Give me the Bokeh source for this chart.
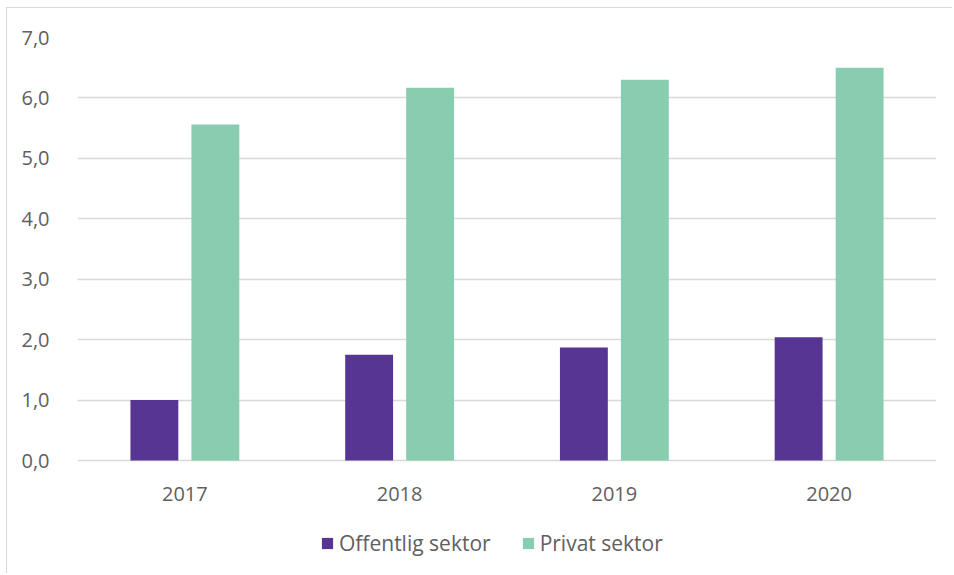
from bokeh.plotting import figure
from bokeh.models import FactorRange, Range1d, Legend, LegendItem, CustomJSTickFormatter
from bokeh.transform import dodge
from bokeh.models import ColumnDataSource
from bokeh.embed import file_html
from bokeh.resources import INLINE

years = ["2017", "2018", "2019", "2020"]
offentlig = [1.0, 1.75, 1.87, 2.04]
privat = [5.56, 6.17, 6.30, 6.50]
y_ticks = [0, 1, 2, 3, 4, 5, 6, 7]

src = ColumnDataSource(data=dict(years=years, offentlig=offentlig, privat=privat))

FONT = "Open Sans"
TXT = "#606060"

# frame extends to the bottom of the canvas so the legend can sit inside it
p = figure(x_range=FactorRange(factors=years, range_padding=0), y_range=Range1d(-1.886, 7),
           width=946, height=566, output_backend="svg", toolbar_location=None,
           min_border_left=70, min_border_right=17, min_border_top=29, min_border_bottom=0)
p.margin = (7, 0, 0, 6)
p.styles = {"border-top": "1px solid #d9d9d9", "border-left": "1px solid #d9d9d9"}
p.outline_line_color = None
p.background_fill_color = "white"

r1 = p.vbar(x=dodge("years", -0.142, range=p.x_range), top="offentlig", width=0.223,
            source=src, fill_color="#573592", line_color=None)
r2 = p.vbar(x=dodge("years", 0.142, range=p.x_range), top="privat", width=0.223,
            source=src, fill_color="#88CDB0", line_color=None)

p.xgrid.grid_line_color = None
p.ygrid.grid_line_color = "#d9d9d9"
p.ygrid.grid_line_width = 1.3
p.yaxis.ticker = y_ticks
p.yaxis.formatter = CustomJSTickFormatter(code="return tick.toFixed(1).replace('.', ',');")
p.xaxis.fixed_location = 0

for ax in (p.xaxis[0], p.yaxis[0]):
    ax.axis_line_color = None
    ax.major_tick_line_color = None
    ax.minor_tick_line_color = None
    ax.major_label_text_font = FONT
    ax.major_label_text_font_size = "20px"
    ax.major_label_text_color = TXT
p.yaxis.major_label_standoff = 22
p.xaxis.major_label_standoff = 20

legend = Legend(items=[LegendItem(label="Offentlig sektor", renderers=[r1]),
                       LegendItem(label="Privat sektor", renderers=[r2])],
                orientation="horizontal", location=(243, 17),
                border_line_color=None, background_fill_alpha=0,
                padding=0, margin=0, spacing=30,
                glyph_width=14, glyph_height=14, label_standoff=5,
                label_text_font=FONT, label_text_font_size="21px", label_text_color=TXT)
p.add_layout(legend, "center")

open("out.html", "w").write(file_html(p, INLINE))
